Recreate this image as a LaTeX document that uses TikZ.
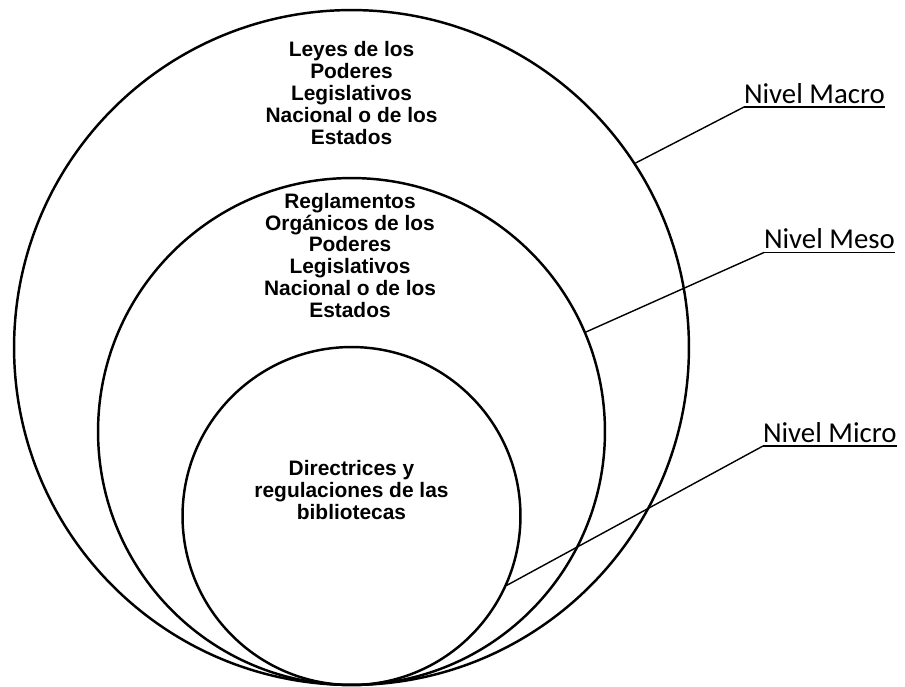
\documentclass[tikz,border=0pt]{standalone}
\usepackage{fontspec}
\setmainfont{Liberation Sans}
\newfontfamily\labelfont{Carlito}
\tikzset{
  ring/.style={
    draw, circle, line width=1.4pt, inner sep=0pt
  },
  ringtext/.style={
    font=\fontsize{11.9}{12.5}\selectfont\bfseries,
    align=center, inner sep=0pt
  },
  levellabel/.style={
    font=\labelfont\fontsize{16.4}{18}\selectfont,
    anchor=base west, inner sep=0pt, outer sep=0pt, text depth=0.08cm
  },
  underline/.style={line width=1.1pt},
  leader/.style={line width=0.8pt}
}
\begin{document}
\begin{tikzpicture}[x=0.02cm, y=-0.02cm]
  \useasboundingbox (0,0) rectangle (905,686);
  % the three levels
  \node[ring, minimum size=13.5cm] (macro) at (351.5,347.5) {};
  \node[ring, minimum size=10.14cm] (meso) at (351.5,431.5) {};
  \node[ring, minimum size=6.76cm] (micro) at (351.5,516) {};

  \node[ringtext] (macrotext) at (351.5,93) {Leyes de los\\Poderes\\Legislativos\\Nacional o de los\\Estados};
  \node[ringtext] (mesotext) at (350,255.5) {Reglamentos\\Orgánicos de los\\Poderes\\Legislativos\\Nacional o de los\\Estados};
  \node[ringtext] (microtext) at (351.5,490) {Directrices y\\regulaciones de las\\bibliotecas};

  % labels on the right
  \node[levellabel] (macrolabel) at (744,103) {Nivel Macro};
  \node[levellabel] (mesolabel) at (764,248.5) {Nivel Meso};
  \node[levellabel] (microlabel) at (763,442) {Nivel Micro};

  \draw[underline] (macrolabel.south west) -- (macrolabel.south east);
  \draw[underline] (mesolabel.south west) -- (mesolabel.south east);
  \draw[underline] (microlabel.south west) -- (microlabel.south east);

  \draw[leader] (macrolabel.south west) -- (macro.33.8);
  \draw[leader] (mesolabel.south west) -- (meso.23.4);
  \draw[leader] (microlabel.south west) -- (micro.-24.3);
\end{tikzpicture}
\end{document}
